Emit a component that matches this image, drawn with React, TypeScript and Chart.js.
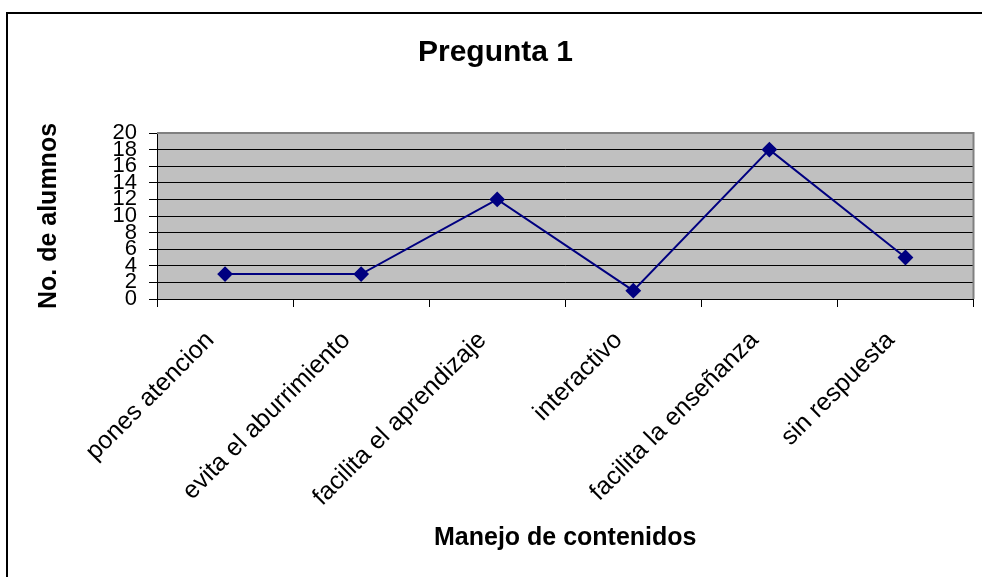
import React, { useEffect, useRef } from "react";
import { Chart, registerables } from "chart.js";

Chart.register(...registerables);

const categories: string[] = [
  "pones atencion",
  "evita el aburrimiento",
  "facilita el aprendizaje",
  "interactivo",
  "facilita la enseñanza",
  "sin respuesta",
];
const alumnos: number[] = [3, 3, 12, 1, 18, 5];
const yMin = 0;
const yMax = 20;
const yStep = 2;
const titleText = "Pregunta 1";
const xTitle = "Manejo de contenidos";
const yTitle = "No. de alumnos";

const FONT = "'Liberation Sans', Arial, sans-serif";

const framePlugin = {
  id: "frame",
  beforeDraw(chart: any) {
    const { ctx, chartArea } = chart;
    ctx.save();
    ctx.fillStyle = "#ffffff";
    ctx.fillRect(0, 0, chart.width, chart.height);
    ctx.strokeStyle = "#000000";
    ctx.lineWidth = 2;
    ctx.beginPath();
    ctx.moveTo(7, chart.height + 5);
    ctx.lineTo(7, 13);
    ctx.lineTo(chart.width + 5, 13);
    ctx.stroke();
    ctx.fillStyle = "#C0C0C0";
    ctx.fillRect(
      chartArea.left,
      chartArea.top,
      chartArea.right - chartArea.left,
      chartArea.bottom - chartArea.top
    );
    ctx.restore();
  },
  beforeDatasetsDraw(chart: any) {
    const { ctx, chartArea } = chart;
    ctx.save();
    ctx.strokeStyle = "#808080";
    ctx.lineWidth = 2;
    ctx.beginPath();
    ctx.moveTo(chartArea.left, chartArea.top);
    ctx.lineTo(chartArea.right, chartArea.top);
    ctx.lineTo(chartArea.right, chartArea.bottom);
    ctx.stroke();
    ctx.restore();
  },
};

export default function App() {
  const canvasRef = useRef<HTMLCanvasElement | null>(null);

  useEffect(() => {
    if (!canvasRef.current) return;
    const chart = new Chart(canvasRef.current, {
      type: "line",
      data: {
        labels: categories,
        datasets: [
          {
            label: yTitle,
            data: alumnos,
            borderColor: "#000080",
            backgroundColor: "#000080",
            borderWidth: 2,
            pointStyle: "rectRot",
            pointRadius: 6.5,
            pointHoverRadius: 6.5,
            pointBackgroundColor: "#000080",
            pointBorderColor: "#000080",
            tension: 0,
          },
        ],
      },
      options: {
        responsive: false,
        animation: false,
        layout: { padding: { left: 17, right: 8, top: 0, bottom: 0 } },
        plugins: {
          legend: { display: false },
          tooltip: { enabled: false },
          title: {
            display: true,
            text: titleText,
            color: "#000000",
            font: { family: FONT, size: 30, weight: "bold", lineHeight: 1.2 },
            padding: { top: 35, bottom: 62 },
          },
        },
        scales: {
          x: {
            type: "category",
            offset: true,
            afterFit(scale: any) {
              scale.height = 278;
            },
            grid: {
              display: true,
              offset: true,
              drawOnChartArea: false,
              drawTicks: true,
              tickLength: 8,
              color: "#000000",
            },
            border: { display: true, color: "#000000", width: 1 },
            ticks: {
              autoSkip: false,
              minRotation: 45,
              maxRotation: 45,
              color: "#000000",
              padding: 4,
              font: { family: FONT, size: 25 },
              callback(this: any, value: any) {
                return this.getLabelForValue(value) + "   ";
              },
            },
            title: {
              display: true,
              text: xTitle,
              color: "#000000",
              font: { family: FONT, size: 25, weight: "bold", lineHeight: 1.2 },
              padding: { top: 0, bottom: 24 },
            },
          },
          y: {
            type: "linear",
            min: yMin,
            max: yMax,
            afterFit(scale: any) {
              scale.width = 140;
            },
            grid: {
              display: true,
              color: "#000000",
              lineWidth: 1,
              drawTicks: true,
              tickLength: 8,
            },
            border: { display: true, color: "#000000", width: 1 },
            ticks: {
              stepSize: yStep,
              autoSkip: false,
              color: "#000000",
              padding: 12,
              font: { family: FONT, size: 22 },
            },
            title: {
              display: true,
              text: yTitle,
              color: "#000000",
              font: { family: FONT, size: 25, weight: "bold", lineHeight: 1.2 },
              padding: { top: 17, bottom: 0 },
            },
          },
        },
      },
      plugins: [framePlugin],
    });
    return () => chart.destroy();
  }, []);

  return (
    <div style={{ position: "fixed", left: 0, top: 0, width: 982, height: 577, background: "#fff" }}>
      <canvas ref={canvasRef} width={982} height={577} style={{ width: 982, height: 577, display: "block" }} />
    </div>
  );
}
